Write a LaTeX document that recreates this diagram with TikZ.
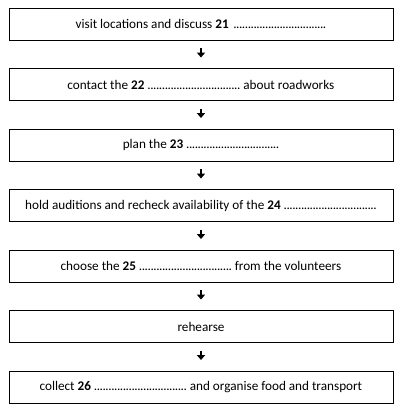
\documentclass[tikz,border=0pt]{standalone}
\usepackage{fontspec}
\setmainfont{Carlito}
\usetikzlibrary{arrows.meta}
\newcommand{\blank}[1]{\hbox to #1{\cleaders\hbox to 2.9pt{\hss.\hss}\hfill}}
\begin{document}
\begin{tikzpicture}[x=1pt,y=1pt,
  stepbox/.style={draw, line width=0.9pt, minimum width=384pt, minimum height=32pt, inner sep=0pt, font=\fontsize{13.2}{15}\selectfont},
  flowarrow/.style={-{Triangle[width=8pt,length=5pt]}, line width=2pt}]
\useasboundingbox (0,0) rectangle (403,-415);
\node[stepbox] (b1) at (201,-24) {visit locations and discuss \textbf{21}\hspace{0.35em}\blank{93pt}};
\node[stepbox] (b2) at (201,-84.5) {contact the \textbf{22} \blank{93pt} about roadworks};
\node[stepbox] (b3) at (201,-145) {plan the \textbf{23} \blank{93pt}};
\node[stepbox] (b4) at (201,-205.5) {hold auditions and recheck availability of the \textbf{24} \blank{93pt}};
\node[stepbox] (b5) at (201,-266) {choose the \textbf{25} \blank{93pt} from the volunteers};
\node[stepbox] (b6) at (201,-326.5) {rehearse};
\node[stepbox] (b7) at (201,-387) {collect \textbf{26} \blank{93pt} and organise food and transport};
\foreach \a/\b in {b1/b2,b2/b3,b3/b4,b4/b5,b5/b6,b6/b7}{
  \path (\a.south) -- (\b.north) coordinate[pos=0.29] (s\a) coordinate[pos=0.62] (e\a);
  \draw[flowarrow] (s\a) -- (e\a);
}
\end{tikzpicture}
\end{document}
